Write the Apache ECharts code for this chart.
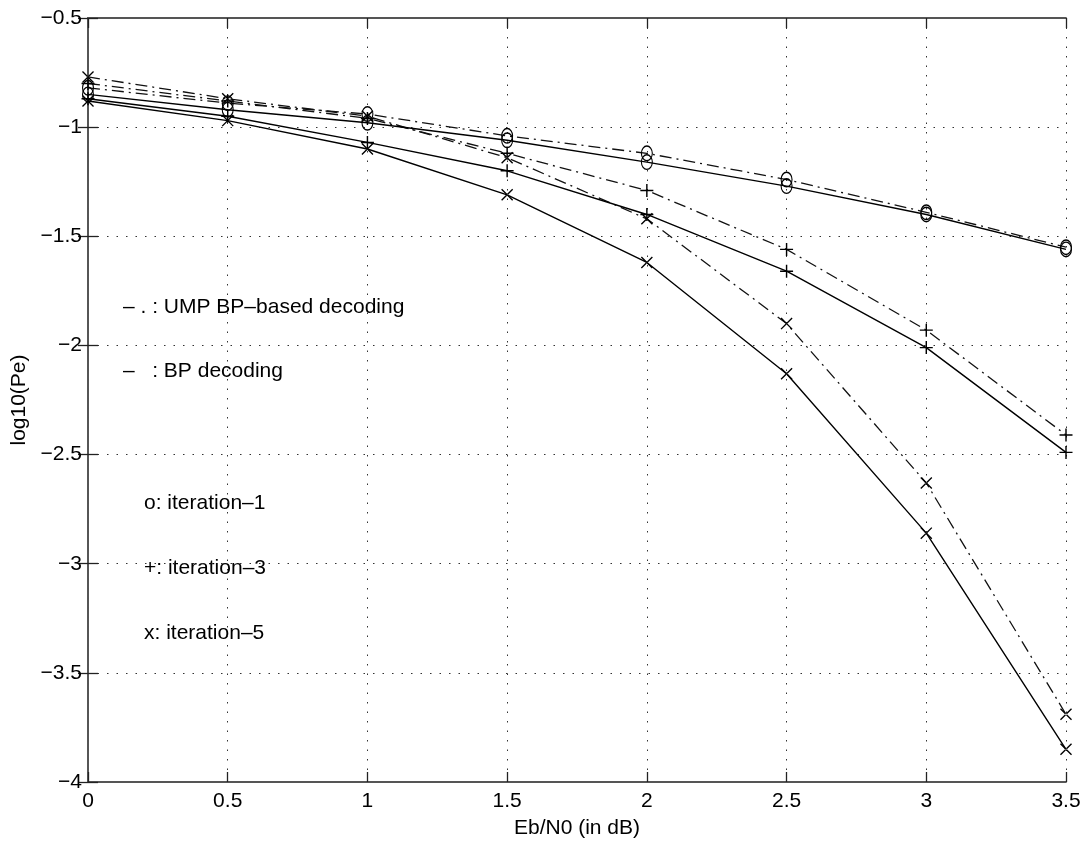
<!DOCTYPE html>
<html>
<head>
<meta charset="utf-8">
<script src="https://cdn.jsdelivr.net/npm/echarts@6/dist/echarts.min.js"></script>
<style>
html,body{margin:0;padding:0;background:#fff;}
#chart{width:1085px;height:844px;}
</style>
</head>
<body>
<div id="chart"></div>
<script>
// ---- data ----
var xValues = [0, 0.5, 1, 1.5, 2, 2.5, 3, 3.5];
var bpIter1  = [-0.85, -0.92, -0.98, -1.06, -1.16, -1.27, -1.40, -1.56];
var bpIter3  = [-0.87, -0.95, -1.07, -1.20, -1.40, -1.66, -2.01, -2.49];
var bpIter5  = [-0.88, -0.97, -1.10, -1.31, -1.62, -2.13, -2.86, -3.85];
var umpIter1 = [-0.82, -0.89, -0.94, -1.04, -1.12, -1.24, -1.39, -1.55];
var umpIter3 = [-0.80, -0.88, -0.96, -1.12, -1.29, -1.56, -1.93, -2.41];
var umpIter5 = [-0.77, -0.87, -0.95, -1.14, -1.42, -1.90, -2.63, -3.69];

var xTickValues = [0, 0.5, 1, 1.5, 2, 2.5, 3, 3.5];
var xTickLabels = ['0', '0.5', '1', '1.5', '2', '2.5', '3', '3.5'];
var yTickValues = [-4, -3.5, -3, -2.5, -2, -1.5, -1, -0.5];
var yTickLabels = ['\u22124', '\u22123.5', '\u22123', '\u22122.5', '\u22122', '\u22121.5', '\u22121', '\u22120.5'];

var xAxisTitle = 'Eb/N0 (in dB)';
var yAxisTitle = 'log10(Pe)';
var noteLines = [
  '\u2013 . : UMP BP\u2013based decoding',
  '\u2013   : BP decoding',
  'o: iteration\u20131',
  '+: iteration\u20133',
  'x: iteration\u20135'
];

// ---- styling ----
var FONT = '"Liberation Sans", Arial, Helvetica, sans-serif';
var FS = 21;
var PLUS = 'path://M4.45,0H5.55V10H4.45Z M0,4.45H10V5.55H0Z';
var CROSS = 'path://M0,0.8L0.8,0L10,9.2L9.2,10Z M10,0.8L9.2,0L0,9.2L0.8,10Z';
var RING = 'path://M5,0A5,5 0 1,1 5,10A5,5 0 1,1 5,0Z M5,0.9A4.1,4.1 0 1,0 5,9.1A4.1,4.1 0 1,0 5,0.9Z';

function pairs(ys) { return xValues.map(function (x, i) { return [x, ys[i]]; }); }
function lookup(vals, labels, v) {
  for (var i = 0; i < vals.length; i++) if (Math.abs(vals[i] - v) < 1e-9) return labels[i];
  return '';
}

var solid = { color: '#000', width: 1.4, type: 'solid' };
var dashdot = { color: '#111', width: 1.3, type: [12, 5, 2, 5] };

function mk(name, ys, line, symbol, size) {
  return {
    name: name, type: 'line', data: pairs(ys), xAxisIndex: 0, yAxisIndex: 0,
    lineStyle: line, symbol: symbol, symbolSize: size, showSymbol: true,
    itemStyle: { color: '#000', borderWidth: 0 },
    animation: false, z: 3
  };
}

var gridLine = { show: true, lineStyle: { color: '#333', width: 1, type: [1.5, 8] } };
var axisLineStyle = { show: true, lineStyle: { color: '#555', width: 1.8 } };

var chart = echarts.init(document.getElementById('chart'), null, { renderer: 'canvas' });
chart.setOption({
  backgroundColor: '#fff',
  animation: false,
  grid: { left: 88, right: 19, top: 18, bottom: 58, containLabel: false },
  xAxis: [{
    type: 'value', min: 0, max: 3.5, interval: 0.5, position: 'bottom',
    name: xAxisTitle, nameLocation: 'middle', nameGap: 36,
    nameTextStyle: { fontFamily: FONT, fontSize: FS, color: '#000' },
    axisLine: axisLineStyle,
    axisTick: { show: true, inside: true, length: 10, lineStyle: { color: '#222', width: 1.3 } },
    axisLabel: { fontFamily: FONT, fontSize: FS, color: '#000', margin: 9,
      formatter: function (v) { return lookup(xTickValues, xTickLabels, v); } },
    splitLine: gridLine
  }, {
    type: 'value', min: 0, max: 3.5, interval: 0.5, position: 'top',
    axisLine: axisLineStyle,
    axisTick: { show: true, inside: true, length: 10, lineStyle: { color: '#222', width: 1.3 } },
    axisLabel: { show: false }, splitLine: { show: false }
  }],
  yAxis: [{
    type: 'value', min: -4, max: -0.5, interval: 0.5, position: 'left',
    name: yAxisTitle, nameLocation: 'middle', nameGap: 51,
    nameTextStyle: { fontFamily: FONT, fontSize: FS, color: '#000' },
    axisLine: axisLineStyle,
    axisTick: { show: true, inside: true, length: 10, lineStyle: { color: '#222', width: 1.3 } },
    axisLabel: { fontFamily: FONT, fontSize: FS, color: '#000', margin: 6,
      formatter: function (v) { return lookup(yTickValues, yTickLabels, v); } },
    splitLine: gridLine
  }, {
    type: 'value', min: -4, max: -0.5, interval: 0.5, position: 'right',
    axisLine: axisLineStyle,
    axisTick: { show: true, inside: true, length: 10, lineStyle: { color: '#222', width: 1.3 } },
    axisLabel: { show: false }, splitLine: { show: false }
  }],
  series: [
    mk('UMP iter-1', umpIter1, dashdot, RING, [12, 16]),
    mk('UMP iter-3', umpIter3, dashdot, PLUS, 13),
    mk('UMP iter-5', umpIter5, dashdot, CROSS, 12),
    mk('BP iter-1', bpIter1, solid, RING, [12, 16]),
    mk('BP iter-3', bpIter3, solid, PLUS, 13),
    mk('BP iter-5', bpIter5, solid, CROSS, 12)
  ],
  graphic: [
    { type: 'text', left: 123, top: 309 - 12, style: { text: noteLines[0], font: FS + 'px ' + FONT, fill: '#000' } },
    { type: 'text', left: 123, top: 373 - 12, style: { text: noteLines[1], font: FS + 'px ' + FONT, fill: '#000' } },
    { type: 'text', left: 144, top: 505 - 12, style: { text: noteLines[2], font: FS + 'px ' + FONT, fill: '#000' } },
    { type: 'text', left: 144, top: 570 - 12, style: { text: noteLines[3], font: FS + 'px ' + FONT, fill: '#000' } },
    { type: 'text', left: 144, top: 635 - 12, style: { text: noteLines[4], font: FS + 'px ' + FONT, fill: '#000' } }
  ]
});
</script>
</body>
</html>
